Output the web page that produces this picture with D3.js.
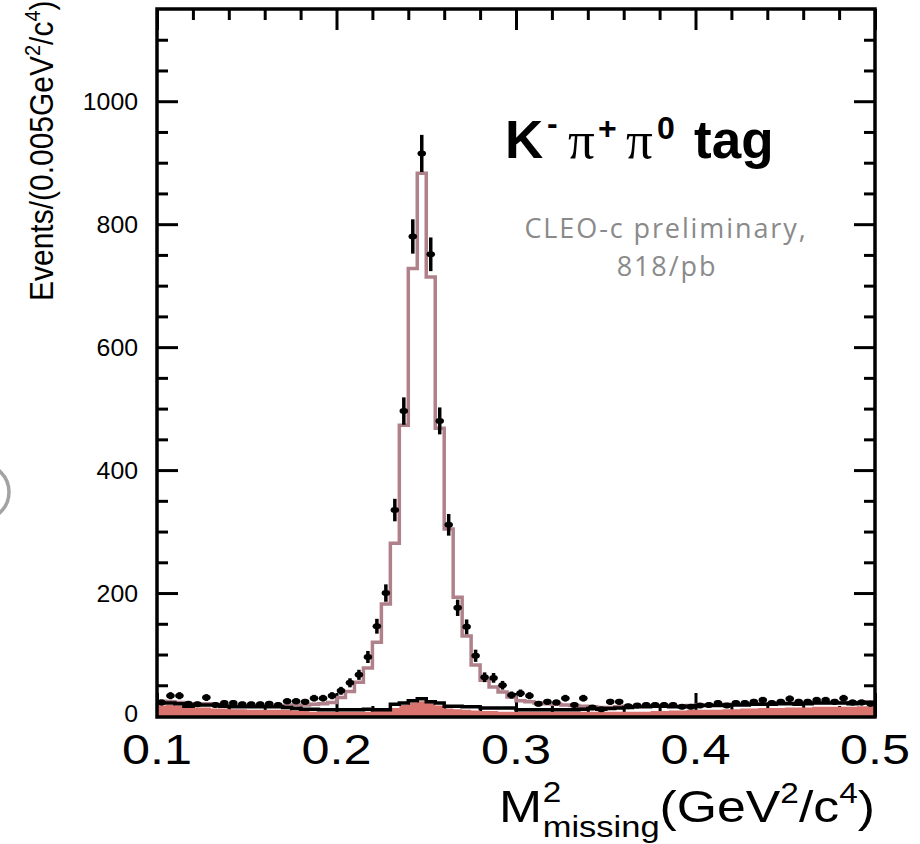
<!DOCTYPE html>
<html>
<head>
<meta charset="utf-8">
<script src="https://cdn.jsdelivr.net/npm/d3@7"></script>
<style>
  html, body { margin: 0; padding: 0; background: #fff; }
  svg { display: block; }
</style>
</head>
<body>
<div id="chart"></div>
<script>
// bins of 0.005 GeV^2/c^4 from 0.1 to 0.5
const binLo = 0.1;
const binW = 0.005;

const dataCounts = [
  22, 33, 33, 20, 19, 30, 18, 21, 21, 19,
  19, 19, 20, 18, 24, 24, 23, 29, 29, 33,
  41, 54, 67, 96, 146, 200, 335, 496, 780, 915,
  751, 480, 311, 176, 145, 98, 63, 62, 50, 34,
  37, 33, 20, 23, 22, 29, 18, 29, 14, 11,
  23, 23, 16, 17, 18, 18, 18, 18, 15, 15,
  17, 18, 21, 17, 21, 21, 23, 26, 21, 23,
  28, 23, 23, 26, 26, 23, 29, 22, 22, 20
];

const fitTotal = [
  24, 23, 22, 19, 20, 20, 19, 17, 17, 17,
  17, 17, 17, 17, 17, 18, 18, 19, 20, 22,
  30, 40, 55, 78, 120, 182, 281, 473, 728, 883,
  714, 468, 304, 193, 130, 83, 58, 47, 39, 31,
  25, 23, 21, 20, 19, 18, 17, 16, 15, 14,
  14, 15, 16, 16, 16, 17, 17, 16, 16, 17,
  18, 18, 18, 19, 19, 19, 20, 20, 20, 21,
  21, 20, 21, 22, 22, 22, 22, 21, 22, 23
];

const bkgTotal = [
  21, 21, 20, 16, 18, 18, 18, 16, 15, 15,
  15, 15, 15, 15, 14, 12, 11, 11, 10, 10,
  10, 10, 10, 11, 10, 10, 19, 21, 25, 28,
  23, 21, 16, 16, 15, 15, 13, 13, 13, 13,
  10, 10, 10, 10, 10, 10, 10, 11, 12, 11,
  12, 13, 14, 15, 15, 16, 16, 15, 15, 16,
  17, 17, 17, 18, 18, 18, 19, 19, 19, 20,
  20, 19, 20, 21, 21, 21, 21, 20, 21, 22
];

const bkgPeaking = [
  17, 18, 17, 14, 14, 14, 12, 12, 11, 11,
  10, 10, 10, 10, 10, 9, 8, 7, 7, 7,
  7, 7, 7, 7, 8, 8, 13, 18, 22, 24,
  21, 17, 12, 11, 10, 9, 8, 8, 7, 7,
  7, 7, 7, 7, 7, 7, 7, 7, 7, 7,
  7, 7, 7, 7, 7, 8, 8, 9, 9, 10,
  10, 10, 10, 11, 11, 12, 12, 13, 13, 13,
  14, 14, 14, 15, 15, 15, 15, 15, 16, 16
];

const xMajor = [0.1, 0.2, 0.3, 0.4, 0.5];
const xMinor = d3.range(0.12, 0.5, 0.02);
const yMajor = [0, 200, 400, 600, 800, 1000];
const yMinor = d3.range(50, 1150, 50);

const width = 920;
const height = 844;
const plotL = 157, plotR = 875, plotT = 9, plotB = 717;

const svg = d3.select('#chart').append('svg')
  .attr('width', width)
  .attr('height', height);

const x = d3.scaleLinear().domain([0.1, 0.5]).range([plotL, plotR]);
const y = d3.scaleLinear().domain([0, 1150]).range([716, plotT]);

const font = '"Liberation Sans", Arial, Helvetica, sans-serif';
const serif = '"Liberation Serif", "Times New Roman", serif';

// stray circle edge from the slide
svg.append('circle')
  .attr('cx', -19).attr('cy', 492).attr('r', 28)
  .attr('fill', 'none').attr('stroke', '#a3a3a3').attr('stroke-width', 3.5);

// ticks on all four sides, pointing inward
const tickStyle = g => g.call(g => g.select('.domain').remove())
  .call(g => g.selectAll('line').attr('stroke', '#000').attr('stroke-width', 3))
  .call(g => g.selectAll('text').remove());

const isMinorX = v => Math.abs(v * 10 - Math.round(v * 10)) > 1e-6;
const yMinorOnly = yMinor.filter(v => v % 200);
const xMinorOnly = xMinor.filter(isMinorX);

const axes = svg.append('g');
axes.append('g').attr('transform', `translate(${plotL},0)`)
  .call(d3.axisLeft(y).tickValues(yMajor).tickSize(-21)).call(tickStyle);
axes.append('g').attr('transform', `translate(${plotL},0)`)
  .call(d3.axisLeft(y).tickValues(yMinorOnly).tickSize(-11)).call(tickStyle);
axes.append('g').attr('transform', `translate(${plotR},0)`)
  .call(d3.axisRight(y).tickValues(yMajor).tickSize(-21)).call(tickStyle);
axes.append('g').attr('transform', `translate(${plotR},0)`)
  .call(d3.axisRight(y).tickValues(yMinorOnly).tickSize(-11)).call(tickStyle);
axes.append('g').attr('transform', `translate(0,${plotT})`)
  .call(d3.axisTop(x).tickValues(xMajor).tickSize(-21)).call(tickStyle);
axes.append('g').attr('transform', `translate(0,${plotT})`)
  .call(d3.axisTop(x).tickValues(xMinorOnly).tickSize(-11)).call(tickStyle);
axes.append('g').attr('transform', `translate(0,${plotB})`)
  .call(d3.axisBottom(x).tickValues(xMajor).tickSize(-24)).call(tickStyle);
axes.append('g').attr('transform', `translate(0,${plotB})`)
  .call(d3.axisBottom(x).tickValues(xMinorOnly).tickSize(-11)).call(tickStyle);

const steps = vals => vals.map((v, i) => [binLo + i * binW, v]).concat([[binLo + vals.length * binW, vals[vals.length - 1]]]);

const area = d3.area()
  .x(d => x(d[0]))
  .y0(y(0) + 1)
  .y1(d => y(d[1]))
  .curve(d3.curveStepAfter);

const line = d3.line()
  .x(d => x(d[0]))
  .y(d => y(d[1]))
  .curve(d3.curveStepAfter);

svg.append('path')
  .attr('d', area(steps(bkgPeaking)))
  .attr('fill', '#d8736d');

svg.append('path')
  .attr('d', line(steps(fitTotal)))
  .attr('fill', 'none')
  .attr('stroke', '#b0818a')
  .attr('stroke-width', 3.5);

svg.append('path')
  .attr('d', line(steps(bkgTotal)))
  .attr('fill', 'none')
  .attr('stroke', '#000')
  .attr('stroke-width', 3.5);

// data points with sqrt(N) errors
const pts = svg.append('g')
  .selectAll('g')
  .data(dataCounts.map((v, i) => ({ x: binLo + (i + 0.5) * binW, v })))
  .join('g');

pts.append('line')
  .attr('x1', d => x(d.x)).attr('x2', d => x(d.x))
  .attr('y1', d => y(d.v + Math.sqrt(d.v)))
  .attr('y2', d => y(d.v - Math.sqrt(d.v)))
  .attr('stroke', '#000').attr('stroke-width', 3.5);

pts.append('ellipse')
  .attr('cx', d => x(d.x)).attr('cy', d => y(d.v))
  .attr('rx', 4.3).attr('ry', 3)
  .attr('fill', '#000');

// frame
svg.append('rect')
  .attr('x', plotL).attr('y', plotT)
  .attr('width', plotR - plotL).attr('height', plotB - plotT)
  .attr('fill', 'none').attr('stroke', '#000').attr('stroke-width', 3.5);

// tick labels
svg.append('g').selectAll('text')
  .data(yMajor)
  .join('text')
  .attr('transform', d => `translate(138,${y(d) + (d ? 8.5 : 6)}) scale(1.08,1)`)
  .attr('text-anchor', 'end')
  .attr('font-family', font)
  .attr('font-size', 23)
  .text(d => d);

svg.append('g').selectAll('text')
  .data(xMajor)
  .join('text')
  .attr('transform', d => `translate(${x(d)},764) scale(1.2,1)`)
  .attr('text-anchor', 'middle')
  .attr('font-family', font)
  .attr('font-size', 42)
  .text(d => d3.format('.1f')(d));

// axis titles
const yt = svg.append('text')
  .attr('transform', 'translate(53,301) scale(1.1,1) rotate(-90)')
  .attr('font-family', font)
  .attr('font-size', 30);
yt.append('tspan').text('Events/(0.005GeV');
yt.append('tspan').attr('font-size', 20).attr('dy', -12).text('2');
yt.append('tspan').attr('dy', 12).text('/c');
yt.append('tspan').attr('font-size', 20).attr('dy', -12).text('4');
yt.append('tspan').attr('dy', 12).text(')');

const xt = svg.append('text')
  .attr('transform', 'translate(499,822) scale(1.15,1)')
  .attr('font-family', font)
  .attr('font-size', 45);
xt.append('tspan').text('M');
xt.append('tspan').attr('font-size', 29).attr('x', 38).attr('dy', -20).text('2');
xt.append('tspan').attr('font-size', 30).attr('x', 38).attr('dy', 35).text('missing');
xt.append('tspan').attr('dy', -15).text('(GeV');
xt.append('tspan').attr('font-size', 29).attr('dy', -19).text('2');
xt.append('tspan').attr('dy', 19).text('/c');
xt.append('tspan').attr('font-size', 29).attr('dy', -19).text('4');
xt.append('tspan').attr('dy', 19).text(')');

// decay-mode label
const title = svg.append('text')
  .attr('y', 158)
  .attr('font-family', font)
  .attr('font-weight', 'bold')
  .attr('font-size', 53);
title.append('tspan').attr('x', 505).text('K');
title.append('tspan').attr('x', 547).attr('font-size', 32).attr('dy', -24).text('-');
title.append('tspan').attr('x', 568).attr('dy', 24).attr('font-weight', 'normal').attr('font-family', serif).text('π');
title.append('tspan').attr('x', 598).attr('font-size', 32).attr('dy', -19).text('+');
title.append('tspan').attr('x', 626).attr('dy', 19).attr('font-weight', 'normal').attr('font-family', serif).text('π');
title.append('tspan').attr('x', 657).attr('font-size', 32).attr('dy', -19).text('0');
title.append('tspan').attr('x', 694).attr('dy', 19).text('tag');

svg.append('text')
  .attr('x', 666).attr('y', 238)
  .attr('text-anchor', 'middle')
  .attr('font-family', '"Open Sans", Lato, sans-serif')
  .attr('font-size', 27)
  .attr('letter-spacing', 1.9)
  .attr('fill', '#8a8a8a')
  .text('CLEO-c preliminary,');

svg.append('text')
  .attr('x', 667).attr('y', 276)
  .attr('text-anchor', 'middle')
  .attr('font-family', '"Open Sans", Lato, sans-serif')
  .attr('font-size', 27)
  .attr('letter-spacing', 1.9)
  .attr('fill', '#8a8a8a')
  .text('818/pb');
</script>
</body>
</html>
